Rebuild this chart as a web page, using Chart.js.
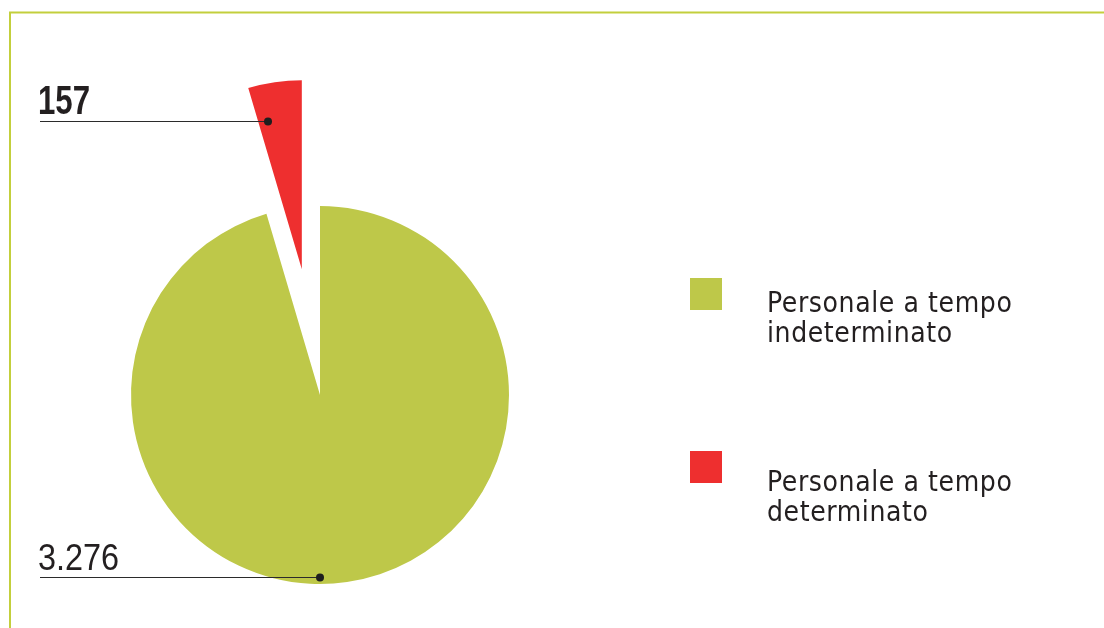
<!DOCTYPE html>
<html><head><meta charset="utf-8">
<script src="https://cdn.jsdelivr.net/npm/chart.js@4.4.1/dist/chart.umd.min.js"></script>
<style>html,body{margin:0;padding:0;background:#fff;overflow:hidden}canvas{display:block}</style>
</head><body>
<canvas id="c" width="1104" height="628"></canvas>
<script>
// ---- data ----
const categories = [['Personale a tempo', 'indeterminato'], ['Personale a tempo', 'determinato']];
const values = [3276, 157];
const valueLabels = ['3.276', '157'];

// ---- style ----
const colors = ['#bec849', '#ee2f2f'];
const explode = [0, 127];
const frameColor = '#c3cf3c';
const numFont = '"Liberation Sans", Arial, sans-serif';
const legFont = '"DejaVu Sans Condensed", "DejaVu Sans", sans-serif';

const annotate = {
  id: 'annotate',
  afterUpdate(chart) {
    // pull slices out along their bisector
    const meta = chart.getDatasetMeta(0);
    meta.data.forEach((arc, i) => {
      const d = explode[i] || 0;
      if (!d) return;
      const mid = (arc.startAngle + arc.endAngle) / 2;
      arc.x += Math.cos(mid) * d;
      arc.y += Math.sin(mid) * d;
    });
  },
  beforeDraw(chart) {
    const ctx = chart.ctx;
    ctx.save();
    ctx.strokeStyle = frameColor;
    ctx.lineWidth = 2;
    ctx.beginPath();
    ctx.moveTo(10, 640);
    ctx.lineTo(10, 12.5);
    ctx.lineTo(1110, 12.5);
    ctx.stroke();
    ctx.restore();
  },
  afterDatasetsDraw(chart) {
    const ctx = chart.ctx;
    const meta = chart.getDatasetMeta(0);
    const g = meta.data[0];
    const r = meta.data[1];
    const gDot = { x: g.x, y: g.y + g.outerRadius * 0.963 };
    const ang = r.startAngle + 0.22 * (r.endAngle - r.startAngle);
    const rDot = { x: r.x + Math.cos(ang) * r.outerRadius * 0.805, y: r.y + Math.sin(ang) * r.outerRadius * 0.805 };

    const items = [
      { dot: gDot, text: valueLabels[0], bold: false, size: 36, sx: 0.9 },
      { dot: rDot, text: valueLabels[1], bold: true, size: 40, sx: 0.78 }
    ];
    ctx.save();
    items.forEach(it => {
      const y = Math.round(it.dot.y) + 0.5;
      ctx.strokeStyle = '#2b2b2b';
      ctx.lineWidth = 1.2;
      ctx.beginPath();
      ctx.moveTo(40, y);
      ctx.lineTo(it.dot.x, y);
      ctx.stroke();
      ctx.fillStyle = '#1e1e1e';
      ctx.beginPath();
      ctx.arc(it.dot.x, y, 4, 0, Math.PI * 2);
      ctx.fill();
      ctx.save();
      ctx.font = (it.bold ? 'bold ' : '') + it.size + 'px ' + numFont;
      ctx.textBaseline = 'alphabetic';
      ctx.textAlign = 'left';
      ctx.fillStyle = '#231f20';
      ctx.translate(38, y - 8);
      ctx.scale(it.sx, 1);
      ctx.fillText(it.text, 0, 0);
      ctx.restore();
    });

    // legend
    const boxTops = [278, 451];
    const baselines = [312, 491];
    ctx.font = '28px ' + legFont;
    ctx.letterSpacing = '0.6px';
    categories.forEach((lines, i) => {
      ctx.fillStyle = colors[i];
      ctx.fillRect(690, boxTops[i], 32, 32);
      ctx.fillStyle = '#231f20';
      lines.forEach((ln, j) => {
        ctx.fillText(ln, 767, baselines[i] + j * 30);
      });
    });
    ctx.restore();
  }
};

new Chart(document.getElementById('c'), {
  type: 'pie',
  data: {
    labels: categories.map(l => l.join(' ')),
    datasets: [{
      data: values,
      backgroundColor: colors,
      borderWidth: 0,
      hoverOffset: 0
    }]
  },
  options: {
    responsive: false,
    animation: false,
    radius: 189,
    layout: { padding: { left: 0, right: 464, top: 162, bottom: 0 } },
    plugins: { legend: { display: false }, tooltip: { enabled: false } },
    events: []
  },
  plugins: [annotate]
});
</script>
</body></html>
